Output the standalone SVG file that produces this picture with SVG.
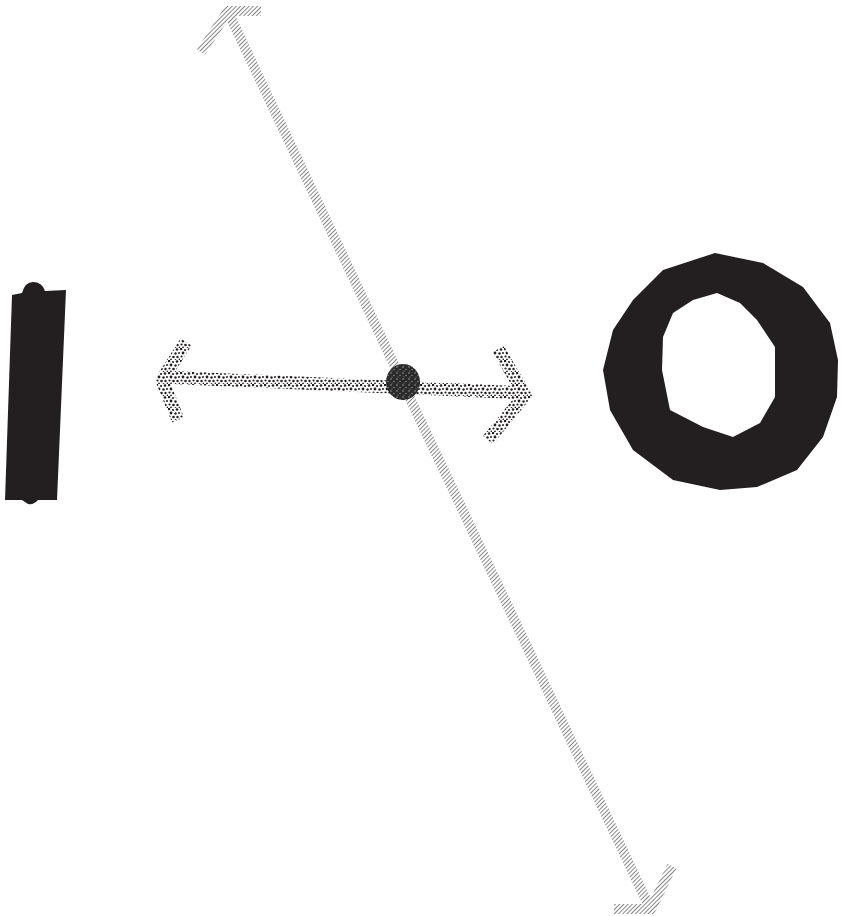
<svg xmlns="http://www.w3.org/2000/svg" width="845" height="916" viewBox="0 0 845 916">
<defs>
<pattern id="hatch" patternUnits="userSpaceOnUse" width="3" height="3" patternTransform="rotate(45)">
<rect width="3" height="3" fill="#fff"/>
<line x1="0" y1="0" x2="0" y2="3" stroke="#5e5e5e" stroke-width="1.5"/>
</pattern>
<pattern id="stipple" patternUnits="userSpaceOnUse" width="12" height="12">
<rect width="12" height="12" fill="#fff"/>
<circle cx="1" cy="1" r="1.3" fill="#231f20"/>
<circle cx="5" cy="2" r="1.1" fill="#231f20"/>
<circle cx="9" cy="1.5" r="1.3" fill="#231f20"/>
<circle cx="3" cy="5" r="1.4" fill="#231f20"/>
<circle cx="7.5" cy="5.5" r="1.2" fill="#231f20"/>
<circle cx="11" cy="5" r="1" fill="#231f20"/>
<circle cx="1.5" cy="8.5" r="1.1" fill="#231f20"/>
<circle cx="5.5" cy="9" r="1.3" fill="#231f20"/>
<circle cx="9.5" cy="9" r="1.2" fill="#231f20"/>
<circle cx="3" cy="11.5" r="0.9" fill="#231f20"/>
<circle cx="11.5" cy="11.5" r="0.9" fill="#231f20"/>
<circle cx="7.5" cy="11.8" r="0.8" fill="#231f20"/>
</pattern>
<pattern id="stippleDark" patternUnits="userSpaceOnUse" width="6" height="6">
<rect width="6" height="6" fill="#2a2a2a"/>
<circle cx="1" cy="1" r="0.8" fill="#999"/>
<circle cx="4" cy="3.5" r="0.7" fill="#999"/>
<circle cx="2" cy="5" r="0.5" fill="#999"/>
</pattern>
<style>
.ink{fill:#231f20}
.hatchline{fill:none;stroke:url(#hatch);stroke-width:10;stroke-linejoin:miter;stroke-linecap:butt}
.stippleline{fill:none;stroke:url(#stipple);stroke-width:13;stroke-linejoin:miter;stroke-linecap:butt}
</style>
</defs>
<rect width="845" height="916" fill="#fff"/>
<g id="node-I">
<path class="ink" d="M12,295 L22,293 Q25,282 33,282 Q42,282 45,291 L66,290 L57,500 L38,500 Q34,505 28,504 L22,500 L5,500 Z"/>
</g>
<g id="node-O">
<path class="ink" fill-rule="evenodd" d="M663,270 L715,253 L763,263 L803,287 L830,323 L838,360 L837,397 L823,437 L797,470 L757,487 L720,490 L673,480 L633,450 L610,410 L603,370 L613,330 L633,300 Z M717,293 L693,300 L673,313 L663,337 L662,370 L670,410 L703,427 L733,437 L760,423 L775,397 L775,347 L757,320 L740,303 Z"/>
</g>
<g id="connectors">
<g id="connector-horizontal">
<line class="stippleline" x1="162" y1="377" x2="526" y2="393"/>
<polyline class="stippleline" points="186,342 162,380 178,420"/>
<polyline class="stippleline" points="498,349 525,395 488,440"/>
</g>
<g id="connector-diagonal">
<line class="hatchline" x1="230" y1="16" x2="648" y2="904"/>
<polyline class="hatchline" points="201,52 228,11 261,11"/>
<polyline class="hatchline" points="614,909 651,909 672,866"/>
</g>
<ellipse id="junction" cx="403" cy="382" rx="17" ry="18" fill="url(#stippleDark)"/>
</g>
</svg>
